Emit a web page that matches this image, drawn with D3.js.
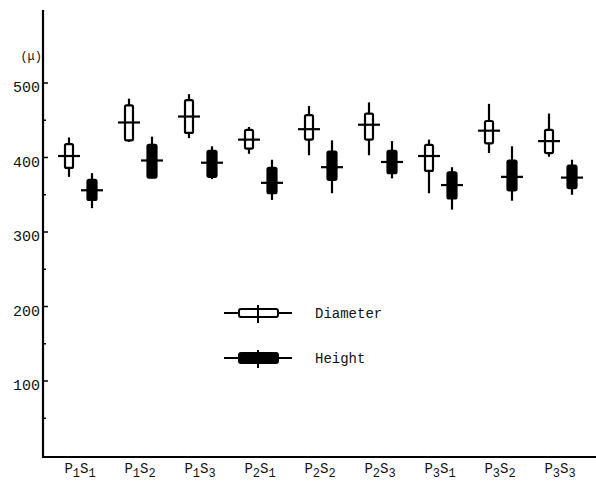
<!DOCTYPE html>
<html lang="en">
<head>
    <meta charset="UTF-8">
    <title>Diameter and Height by treatment</title>
    <script src="https://d3js.org/d3.v7.min.js"></script>
    <style>
        body { margin: 0; background: #fff; }
        text { font-family: "Liberation Mono", "DejaVu Sans Mono", monospace; fill: #111; }
    </style>
</head>
<body>
    <script>
        // Data (microns)
        const categories = ["P1S1", "P1S2", "P1S3", "P2S1", "P2S2", "P2S3", "P3S1", "P3S2", "P3S3"];

        const diameterMean  = [402, 447, 455, 424, 438, 444, 402, 436, 422];
        const diameterBoxHi = [418, 470, 477, 437, 457, 459, 417, 449, 437];
        const diameterBoxLo = [386, 423, 433, 412, 424, 424, 382, 419, 406];
        const diameterMax   = [427, 479, 485, 441, 469, 474, 424, 472, 459];
        const diameterMin   = [374, 421, 426, 405, 403, 403, 352, 406, 401];

        const heightMean  = [356, 396, 393, 366, 387, 394, 363, 374, 373];
        const heightBoxHi = [370, 417, 409, 386, 408, 409, 380, 396, 389];
        const heightBoxLo = [343, 373, 374, 352, 370, 379, 345, 356, 359];
        const heightMax   = [379, 428, 415, 397, 423, 422, 387, 415, 397];
        const heightMin   = [332, 372, 371, 343, 352, 372, 330, 342, 350];

        const yTicks = [100, 200, 300, 400, 500];
        const yMinorTicks = [50, 150, 250, 350, 450];

        const width = 596, height = 485;
        const svg = d3.select("body")
            .append("svg")
            .attr("width", width)
            .attr("height", height);

        const x = d3.scalePoint().domain(categories).range([80, 560]);
        const y = d3.scaleLinear().domain([0, 600]).range([455.5, 8.5]);

        const axisX = 43, baseY = 457;

        // axes
        svg.append("line")
            .attr("x1", axisX).attr("x2", axisX)
            .attr("y1", 10).attr("y2", baseY)
            .attr("stroke", "#000").attr("stroke-width", 2.2);
        svg.append("line")
            .attr("x1", axisX - 1).attr("x2", width)
            .attr("y1", baseY).attr("y2", baseY)
            .attr("stroke", "#000").attr("stroke-width", 2.2);

        svg.append("g").selectAll("line")
            .data(yTicks)
            .join("line")
            .attr("x1", axisX).attr("x2", axisX + 5)
            .attr("y1", d => y(d)).attr("y2", d => y(d))
            .attr("stroke", "#000").attr("stroke-width", 1.5);
        svg.append("g").selectAll("line")
            .data(yMinorTicks)
            .join("line")
            .attr("x1", axisX).attr("x2", axisX + 3)
            .attr("y1", d => y(d)).attr("y2", d => y(d))
            .attr("stroke", "#000").attr("stroke-width", 1.5);

        svg.append("g").selectAll("text")
            .data(yTicks)
            .join("text")
            .attr("x", 40)
            .attr("y", d => y(d) + 9)
            .attr("text-anchor", "end")
            .attr("font-size", 15)
            .text(d => d);

        svg.append("text")
            .attr("x", 42).attr("y", 60)
            .attr("text-anchor", "end")
            .attr("font-size", 12)
            .text("(\u03bc)");

        // category labels with subscripts
        const lab = svg.append("g").selectAll("text")
            .data(categories)
            .join("text")
            .attr("x", d => x(d))
            .attr("y", 473)
            .attr("text-anchor", "middle")
            .attr("font-size", 14);
        lab.each(function(d) {
            const t = d3.select(this);
            t.append("tspan").text(d[0]);
            t.append("tspan").attr("font-size", 12).attr("dy", 4).text(d[1]);
            t.append("tspan").attr("dy", -4).text(d[2]);
            t.append("tspan").attr("font-size", 12).attr("dy", 4).text(d[3]);
        });

        // glyphs
        const series = [
            {key: "Diameter", dx: -11, filled: false, mean: diameterMean, hi: diameterBoxHi, lo: diameterBoxLo, max: diameterMax, min: diameterMin},
            {key: "Height", dx: 12, filled: true, mean: heightMean, hi: heightBoxHi, lo: heightBoxLo, max: heightMax, min: heightMin}
        ];

        series.forEach(s => {
            const rows = categories.map((c, i) => ({c, mean: s.mean[i], hi: s.hi[i], lo: s.lo[i], max: s.max[i], min: s.min[i]}));
            const g = svg.append("g").selectAll("g")
                .data(rows)
                .join("g")
                .attr("transform", d => `translate(${x(d.c) + s.dx},0)`);

            g.append("line")
                .attr("y1", d => y(d.max)).attr("y2", d => y(d.min))
                .attr("stroke", "#000").attr("stroke-width", 2.2);

            g.append("rect")
                .attr("x", s.filled ? -4.5 : -4)
                .attr("width", s.filled ? 9 : 8)
                .attr("y", d => y(d.hi))
                .attr("height", d => y(d.lo) - y(d.hi))
                .attr("rx", 1.5)
                .attr("fill", s.filled ? "#000" : "#fff")
                .attr("stroke", "#000").attr("stroke-width", 2.2);

            g.append("line")
                .attr("x1", -11).attr("x2", 11)
                .attr("y1", d => y(d.mean)).attr("y2", d => y(d.mean))
                .attr("stroke", "#000").attr("stroke-width", 2.2);
        });

        // legend
        const legend = svg.append("g").selectAll("g")
            .data(series)
            .join("g")
            .attr("transform", (d, i) => `translate(0,${313 + i * 45})`);
        legend.append("line")
            .attr("x1", 224).attr("x2", 292)
            .attr("stroke", "#000").attr("stroke-width", 2);
        legend.append("rect")
            .attr("x", 239).attr("width", 39)
            .attr("y", d => d.filled ? -5 : -4)
            .attr("height", d => d.filled ? 10 : 8)
            .attr("rx", 2)
            .attr("fill", d => d.filled ? "#000" : "#fff")
            .attr("stroke", "#000").attr("stroke-width", 2);
        legend.append("line")
            .attr("x1", 258).attr("x2", 258)
            .attr("y1", -8).attr("y2", 10)
            .attr("stroke", "#000").attr("stroke-width", 2);
        legend.append("text")
            .attr("x", 315).attr("y", 5)
            .attr("font-size", 14)
            .text(d => d.key);
    </script>
</body>
</html>
